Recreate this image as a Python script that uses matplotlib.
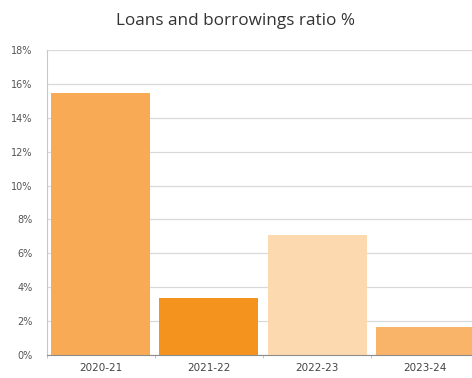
import matplotlib.pyplot as plt
import numpy as np

# data
years = ["2020-21", "2021-22", "2022-23", "2023-24"]
ratio = [15.45, 3.35, 7.08, 1.67]
bar_colors = ["#F8AA54", "#F4931E", "#FDD9AF", "#FAB46A"]
y_ticks = [0, 2, 4, 6, 8, 10, 12, 14, 16, 18]

fig = plt.figure(figsize=(4.72, 3.78), dpi=100)
ax = fig.add_axes([46.5 / 472, 23 / 378, 433 / 472, 305 / 378])

x = np.arange(len(years))
ax.bar(x, ratio, width=0.915, color=bar_colors, zorder=3)

ax.set_xlim(-0.5, 3.5)
ax.set_ylim(0, 18)
ax.set_yticks(y_ticks)
ax.set_yticklabels([str(v) + "%" for v in y_ticks])
ax.set_xticks(x)
ax.set_xticklabels(years)
ax.set_xticks(np.arange(-0.5, 4, 1), minor=True)

ax.grid(axis="y", color="#d9d9d9", linewidth=0.9, zorder=0)
for s in ["top", "right"]:
    ax.spines[s].set_visible(False)
ax.spines["left"].set_color("#c8c8c8")
ax.spines["bottom"].set_color("#8c8c8c")
ax.spines["bottom"].set_zorder(4)

ax.tick_params(axis="y", length=0, pad=10, labelsize=7, labelcolor="#555555")
ax.tick_params(axis="x", which="major", length=0, pad=6, labelsize=7.5, labelcolor="#444444")
ax.tick_params(axis="x", which="minor", length=2.5, color="#bbbbbb")

fig.text(0.5, 0.945, "Loans and borrowings ratio %", ha="center", va="center",
         fontsize=12.3, color="#333333", family="Open Sans")

plt.savefig("out.png", dpi=100)
